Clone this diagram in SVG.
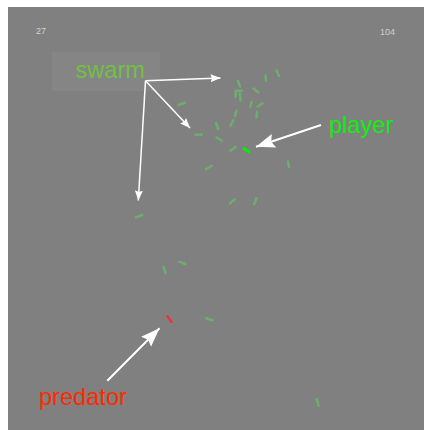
<svg xmlns="http://www.w3.org/2000/svg" width="424" height="430" viewBox="0 0 424 430">
<defs>
<style>
.lbl{font-family:"Liberation Sans",Arial,sans-serif;font-size:23.6px}
.num{font-family:"Liberation Sans",Arial,sans-serif;font-size:9px;fill:#d0d0d0}
.boid{stroke:#6cae6c;stroke-width:2.5;stroke-linecap:round}
.conn{stroke:#ffffff;fill:none}
</style>
<marker id="hs" markerUnits="userSpaceOnUse" markerWidth="11" markerHeight="9" refX="10" refY="4" orient="auto"><path d="M0,0 L10,4 L0,8 L1.5,4 z" fill="#fff"/></marker>
<marker id="hl" markerUnits="userSpaceOnUse" markerWidth="20" markerHeight="16" refX="19" refY="7" orient="auto"><path d="M0,0 L19,7 L0,14 L3,7 z" fill="#fff"/></marker>
</defs>
<rect x="8" y="7" width="416" height="423" fill="#808080"/>
<g id="counter-left"><text class="num" x="36" y="34">27</text></g>
<g id="counter-right"><text class="num" x="380" y="35">104</text></g>
<g id="swarm"><rect x="52" y="52" width="108" height="39" fill="#858585"/><text class="lbl" x="75.5" y="78.3" fill="#72c043">swarm</text></g>
<g id="player"><text class="lbl" x="329" y="133.3" fill="#11ee11">player</text></g>
<g id="predator"><text class="lbl" x="39" y="405" fill="#ff2a00">predator</text></g>
<g id="boids">
<line class="boid" x1="265.5" y1="75.5" x2="266" y2="80.5"/>
<line class="boid" x1="276.5" y1="70.5" x2="279" y2="76"/>
<line class="boid" x1="238" y1="81" x2="240" y2="86.5"/>
<line class="boid" x1="235.5" y1="90.7" x2="242" y2="90.7"/>
<line class="boid" x1="236" y1="92.5" x2="235.5" y2="97"/>
<line class="boid" x1="240" y1="93.5" x2="240.5" y2="100.5"/>
<line class="boid" x1="253.5" y1="88.5" x2="258.5" y2="92.5"/>
<line class="boid" x1="251.5" y1="102" x2="250.3" y2="107"/>
<line class="boid" x1="257.5" y1="106.5" x2="262.5" y2="103.5"/>
<line class="boid" x1="257" y1="112" x2="256.5" y2="117.5"/>
<line class="boid" x1="178.5" y1="105" x2="185" y2="102.7"/>
<line class="boid" x1="236.5" y1="110.5" x2="235" y2="116"/>
<line class="boid" x1="233.5" y1="120" x2="230.5" y2="125.5"/>
<line class="boid" x1="216" y1="123" x2="218.2" y2="129"/>
<line class="boid" x1="195.5" y1="134.7" x2="202" y2="134.5"/>
<line class="boid" x1="216.5" y1="137.5" x2="221.5" y2="140.5"/>
<line class="boid" x1="230.5" y1="150.8" x2="235.5" y2="147"/>
<line class="boid" x1="206" y1="169.3" x2="211.7" y2="165.8"/>
<line class="boid" x1="288" y1="161.5" x2="289" y2="167"/>
<line class="boid" x1="230" y1="203.3" x2="235" y2="199.3"/>
<line class="boid" x1="254.2" y1="204.3" x2="256.5" y2="198.2"/>
<line class="boid" x1="136" y1="217.3" x2="142.3" y2="215"/>
<line class="boid" x1="163.5" y1="266.7" x2="165.5" y2="273"/>
<line class="boid" x1="179.3" y1="261.7" x2="185.2" y2="264"/>
<line class="boid" x1="206.3" y1="318.2" x2="212.5" y2="320.3"/>
<line class="boid" x1="316.8" y1="399.3" x2="318.5" y2="405.8"/>
<line x1="244" y1="148.5" x2="249" y2="151.7" stroke="#00ee00" stroke-width="3" stroke-linecap="round"/>
<line x1="167.5" y1="316.3" x2="171.5" y2="322" stroke="#ee3333" stroke-width="2.5" stroke-linecap="round"/>
</g>
<g id="connectors">
<line class="conn" x1="145.5" y1="80.7" x2="220.5" y2="78" stroke-width="1.5" marker-end="url(#hs)"/>
<line class="conn" x1="145.5" y1="80.7" x2="190" y2="128" stroke-width="1.5" marker-end="url(#hs)"/>
<line class="conn" x1="145.5" y1="80.7" x2="138.3" y2="200.5" stroke-width="1.5" marker-end="url(#hs)"/>
<line class="conn" x1="321" y1="125" x2="256" y2="146.8" stroke-width="2" marker-end="url(#hl)"/>
<line class="conn" x1="107.3" y1="380.7" x2="159.5" y2="328.3" stroke-width="2" marker-end="url(#hl)"/>
</g>
</svg>
